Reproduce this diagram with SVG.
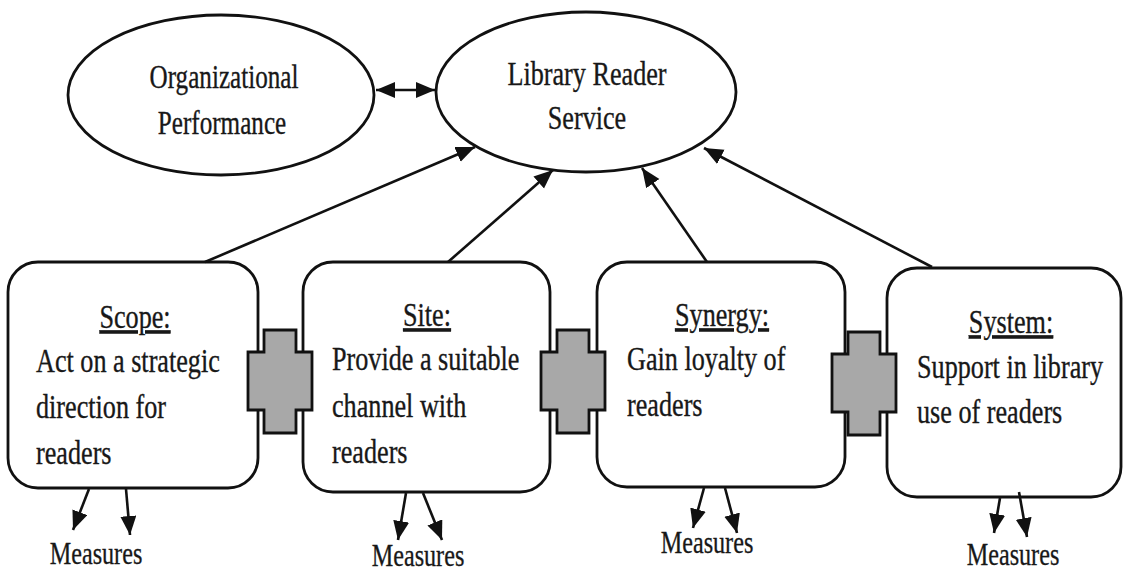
<svg xmlns="http://www.w3.org/2000/svg" width="1127" height="573" viewBox="0 0 1127 573">
  <style>
    .shape { fill: #ffffff; stroke: #111111; stroke-width: 2.8; }
    .joint { fill: #a8a8a8; stroke: #111111; stroke-width: 2.8; stroke-linejoin: miter; }
    .link { stroke: #111111; stroke-width: 2.6; fill: none; }
    .t { font-family: "Liberation Serif", "Times New Roman", serif; font-size: 34px; fill: #181818; stroke: #181818; stroke-width: 0.35; }
    .mid { text-anchor: middle; }
    .head { text-decoration: underline; }
    .m { font-family: "Liberation Serif", "Times New Roman", serif; font-size: 31px; fill: #181818; stroke: #181818; stroke-width: 0.3; text-anchor: middle; }
  </style>
  <defs>
    <marker id="arrow" markerUnits="userSpaceOnUse" markerWidth="21" markerHeight="17" refX="19" refY="8" orient="auto-start-reverse">
      <path d="M0,0 L19,8 L0,16 Z" fill="#111111"/>
    </marker>
  </defs>

  <rect width="1127" height="573" fill="#ffffff"/>

  <!-- top-level outcomes -->
  <g id="node-org-performance">
    <ellipse class="shape" cx="221" cy="95" rx="153" ry="80"/>
    <text class="t mid" transform="translate(224,88) scale(0.74,1)">Organizational</text>
    <text class="t mid" transform="translate(222,134) scale(0.74,1)">Performance</text>
  </g>

  <g id="node-reader-service">
    <ellipse class="shape" cx="586" cy="92" rx="150" ry="80"/>
    <text class="t mid" transform="translate(587,85) scale(0.77,1)">Library Reader</text>
    <text class="t mid" transform="translate(587,129) scale(0.77,1)">Service</text>
  </g>

  <!-- the four S boxes -->
  <g id="node-scope">
    <rect class="shape" x="8" y="262" width="250" height="226" rx="30" ry="30"/>
    <text class="t mid head" transform="translate(135,328) scale(0.77,1)">Scope:</text>
    <text class="t" transform="translate(36,372) scale(0.77,1)">Act on a strategic</text>
    <text class="t" transform="translate(36,418) scale(0.77,1)">direction for</text>
    <text class="t" transform="translate(36,464) scale(0.77,1)">readers</text>
  </g>

  <g id="node-site">
    <rect class="shape" x="303" y="262" width="247" height="230" rx="30" ry="30"/>
    <text class="t mid head" transform="translate(427,326) scale(0.77,1)">Site:</text>
    <text class="t" transform="translate(332,370) scale(0.77,1)">Provide a suitable</text>
    <text class="t" transform="translate(332,417) scale(0.77,1)">channel with</text>
    <text class="t" transform="translate(332,463) scale(0.77,1)">readers</text>
  </g>

  <g id="node-synergy">
    <rect class="shape" x="597" y="262" width="248" height="225" rx="30" ry="30"/>
    <text class="t mid head" transform="translate(722,326) scale(0.77,1)">Synergy:</text>
    <text class="t" transform="translate(627,370) scale(0.77,1)">Gain loyalty of</text>
    <text class="t" transform="translate(627,416) scale(0.77,1)">readers</text>
  </g>

  <g id="node-system">
    <rect class="shape" x="887" y="268" width="234" height="229" rx="30" ry="30"/>
    <text class="t mid head" transform="translate(1011,333) scale(0.77,1)">System:</text>
    <text class="t" transform="translate(917,378) scale(0.77,1)">Support in library</text>
    <text class="t" transform="translate(917,423) scale(0.77,1)">use of readers</text>
  </g>

  <!-- grey joints linking neighbouring boxes -->
  <g id="joint-scope-site">
    <path class="joint" d="M264,330 H296 V352 H312 V410 H296 V433 H264 V410 H248 V352 H264 Z"/>
  </g>
  <g id="joint-site-synergy">
    <path class="joint" d="M557,330 H589 V352 H605 V410 H589 V433 H557 V410 H541 V352 H557 Z"/>
  </g>
  <g id="joint-synergy-system">
    <path class="joint" d="M848,332 H880 V354 H896 V412 H880 V435 H848 V412 H832 V354 H848 Z"/>
  </g>

  <!-- measures labels -->
  <g id="measures-scope"><text class="m" transform="translate(96,564) scale(0.78,1)">Measures</text></g>
  <g id="measures-site"><text class="m" transform="translate(418,566) scale(0.78,1)">Measures</text></g>
  <g id="measures-synergy"><text class="m" transform="translate(707,553) scale(0.78,1)">Measures</text></g>
  <g id="measures-system"><text class="m" transform="translate(1013,565) scale(0.78,1)">Measures</text></g>

  <!-- connectors -->
  <g id="connectors">
    <line class="link" x1="376" y1="90" x2="435" y2="90" marker-start="url(#arrow)" marker-end="url(#arrow)"/>

    <line class="link" x1="205" y1="262" x2="475" y2="147" marker-end="url(#arrow)"/>
    <line class="link" x1="448" y1="262" x2="553" y2="170" marker-end="url(#arrow)"/>
    <line class="link" x1="707" y1="262" x2="642" y2="168" marker-end="url(#arrow)"/>
    <line class="link" x1="932" y1="267" x2="704" y2="148" marker-end="url(#arrow)"/>

    <line class="link" x1="89" y1="489" x2="73" y2="530" marker-end="url(#arrow)"/>
    <line class="link" x1="126" y1="489" x2="130" y2="535" marker-end="url(#arrow)"/>

    <line class="link" x1="406" y1="493" x2="398" y2="540" marker-end="url(#arrow)"/>
    <line class="link" x1="423" y1="493" x2="442" y2="540" marker-end="url(#arrow)"/>

    <line class="link" x1="704" y1="488" x2="693" y2="528" marker-end="url(#arrow)"/>
    <line class="link" x1="725" y1="488" x2="737" y2="533" marker-end="url(#arrow)"/>

    <line class="link" x1="1000" y1="498" x2="994" y2="533" marker-end="url(#arrow)"/>
    <line class="link" x1="1019" y1="492" x2="1027" y2="537" marker-end="url(#arrow)"/>
  </g>
</svg>
